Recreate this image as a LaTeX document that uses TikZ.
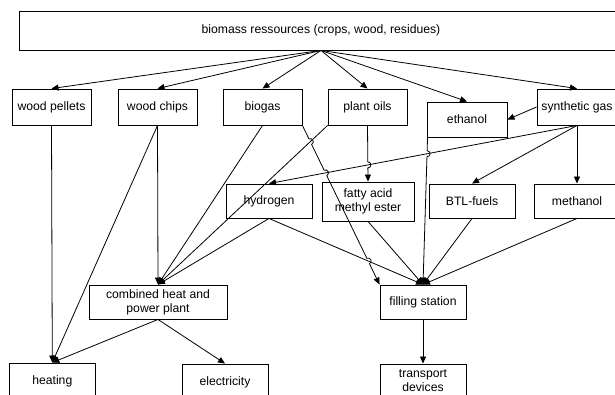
\documentclass[tikz,border=0pt]{standalone}
\usepackage{fontspec}
\setmainfont{Liberation Sans}
\usetikzlibrary{arrows.meta,calc,intersections}
\newcommand{\mkhop}[3]{%
  \coordinate (#1a) at ($(#1)!3pt!(#2)$);
  \coordinate (#1b) at ($(#1)!3pt!(#3)$);
  \coordinate (#1c) at ($(#1a)!4pt!90:(#1)$);
  \coordinate (#1d) at ($(#1b)!4pt!-90:(#1)$);
}
\begin{document}
\begin{tikzpicture}[x=1pt,y=-1pt,
  box/.style={draw, line width=0.9pt, fill=white, inner sep=0pt, align=center,
    font=\fontsize{12.2}{14}\selectfont},
  conn/.style={line width=0.8pt, -{Triangle[length=7pt,width=6pt]}},
]
\useasboundingbox (0,0) rectangle (615,394);
\fill[white] (0,0) rectangle (615,394);
\clip (0,0) rectangle (615,394);

% nodes
\node[box, minimum width=604pt, minimum height=39pt] (top) at (321,30.5) {biomass ressources (crops, wood, residues)};
\node[box, minimum width=79pt, minimum height=36pt] (wp) at (51.5,107) {wood pellets};
\node[box, minimum width=79pt, minimum height=36pt] (wc) at (157.5,107) {wood chips};
\node[box, minimum width=79pt, minimum height=36pt] (bg) at (262.5,107) {biogas};
\node[box, minimum width=79pt, minimum height=36pt] (po) at (367.5,107) {plant oils};
\node[box, minimum width=80pt, minimum height=35pt] (eth) at (467,119.5) {ethanol};
\node[box, minimum width=80pt, minimum height=36pt] (sg) at (577,107) {synthetic gas};
\node[box, minimum width=86pt, minimum height=34pt] (hy) at (269,201) {hydrogen};
\node[box, minimum width=92pt, minimum height=39pt] (fa) at (368,201.5) {fatty acid\\methyl ester};
\node[box, minimum width=86pt, minimum height=34pt] (btl) at (472,201) {BTL-fuels};
\node[box, minimum width=86pt, minimum height=34pt] (me) at (577,201) {methanol};
\node[box, minimum width=138pt, minimum height=34pt] (chp) at (158,302) {combined heat and\\power plant};
\node[box, minimum width=86pt, minimum height=34pt] (fs) at (423,302) {filling station};
\node[box, minimum width=86.5pt, minimum height=37pt] (heat) at (52.3,381.5) {heating};
\node[box, minimum width=86pt, minimum height=37pt] (elec) at (225,382.5) {electricity};
\node[box, minimum width=86pt, minimum height=34pt] (tr) at (423,381) {transport\\devices};

% helper coordinates
\coordinate (e1) at ($(eth.south west)+(1,0)$);

% paths for intersections
\path[name path=sghy] (sg.south) -- (hy.north);
\path[name path=pochp] (po.south west) -- (chp.north);
\path[name path=hyfs] (hy.south) -- (fs.north);
\path[name path=ethfs] (e1) -- (fs.north);
\path[name path=pofa] (po.south) -- (fa.north);
\path[name path=bgfs] (bg.south east) -- (fs.north west);
\path[name intersections={of=sghy and ethfs, by=J1}];
\path[name intersections={of=sghy and pofa, by=J2}];
\path[name intersections={of=pochp and bgfs, by=K1}];
\path[name intersections={of=sghy and bgfs, by=K2}];
\path[name intersections={of=hyfs and bgfs, by=K3}];
\mkhop{J1}{e1}{fs.north}
\mkhop{J2}{po.south}{fa.north}
\mkhop{K1}{bg.south east}{fs.north west}
\mkhop{K2}{bg.south east}{fs.north west}
\mkhop{K3}{bg.south east}{fs.north west}

% from the top box
\foreach \n in {wp,wc,bg,po,eth,sg}
  \draw[conn] (top.south) -- (\n.north);

% synthetic gas
\draw[conn] (sg.west) -- (eth.east);
\draw[conn] (sg.south) -- (hy.north);
\draw[conn] (sg.south) -- (btl.north);
\draw[conn] (sg.south) -- (me.north);

% ethanol to filling station (with hop)
\draw[conn] (e1) -- (J1a) .. controls (J1c) and (J1d) .. (J1b) -- (fs.north);

% plant oils
\draw[conn] (po.south) -- (J2a) .. controls (J2c) and (J2d) .. (J2b) -- (fa.north);
\draw[conn] (po.south west) -- (chp.north);

% biogas
\draw[conn] (bg.south) -- (chp.north);
\draw[conn] (bg.south east) -- (K1a) .. controls (K1c) and (K1d) .. (K1b)
  -- (K2a) .. controls (K2c) and (K2d) .. (K2b)
  -- (K3a) .. controls (K3c) and (K3d) .. (K3b) -- (fs.north west);

% wood
\draw[conn] (wp.south) -- (heat.north);
\draw[conn] (wc.south) -- (heat.north);
\draw[conn] (wc.south) -- (chp.north);

% second row
\draw[conn] (hy.south) -- (chp.north);
\draw[conn] (hy.south) -- (fs.north);
\draw[conn] (fa.south) -- (fs.north);
\draw[conn] (btl.south) -- (fs.north);
\draw[conn] (me.south) -- (fs.north);

% outputs
\draw[conn] (chp.south) -- (heat.north);
\draw[conn] (chp.south) -- (elec.north);
\draw[conn] (fs.south) -- (tr.north);
\end{tikzpicture}
\end{document}
